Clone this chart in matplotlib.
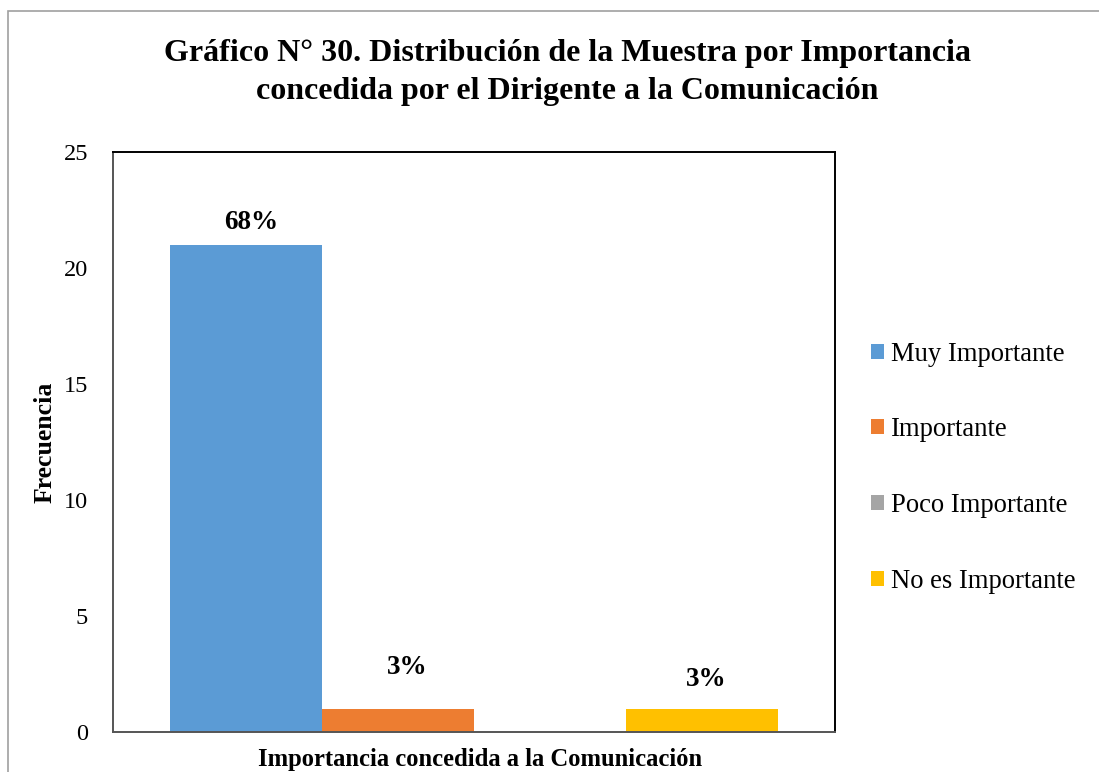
import matplotlib.pyplot as plt
from matplotlib.patches import Rectangle

# datos
categorias = ['Muy Importante', 'Importante', 'Poco Importante', 'No es Importante']
frecuencias = [21, 1, 0, 1]
etiquetas = ['68%', '3%', '', '3%']
colores = ['#5B9BD5', '#ED7D31', '#A5A5A5', '#FFC000']

plt.rcParams['font.family'] = ['Liberation Serif', 'DejaVu Serif']

fig = plt.figure(figsize=(10.99, 7.72), dpi=100)
ax = fig.add_axes([0.1028, 0.0518, 0.657, 0.7513])

# borde del área del gráfico
fig.patches.append(Rectangle((8 / 1099, -0.05), 1.2, 1 - 11 / 772 + 0.05,
                             transform=fig.transFigure, fill=False,
                             edgecolor='#A0A0A0', linewidth=1.2))

ancho = 0.842 / len(categorias)
inicio = -0.421 + ancho / 2
# desplazamiento de las etiquetas (puntos)
offsets = [(4, 16), (7, 30), (0, 0), (3, 21)]
for i, (cat, val, lab, col) in enumerate(zip(categorias, frecuencias, etiquetas, colores)):
    x = inicio + i * ancho
    ax.bar(x, val, width=ancho, color=col, label=cat)
    if lab:
        ax.annotate(lab, (x, val), xytext=offsets[i], textcoords='offset points',
                    ha='center', va='center', fontsize=19.5, fontweight='bold')

ax.set_xlim(-0.5, 0.5)
ax.set_ylim(0, 25)
ax.set_yticks([0, 5, 10, 15, 20, 25])
ax.set_xticks([])
ax.tick_params(axis='y', length=0, pad=18, labelsize=17.5)
for s in ax.spines.values():
    s.set_color('black')
    s.set_linewidth(1.4)
ax.spines['left'].set_color('#555555')
ax.spines['bottom'].set_color('#555555')

ax.set_ylabel('Frecuencia', fontsize=18.5, fontweight='bold', labelpad=5)
ax.set_xlabel('Importancia concedida a la Comunicación', fontsize=17.7,
              fontweight='bold')
ax.xaxis.set_label_coords(0.508, -0.027)

fig.text(0.516, 0.906, 'Gráfico N° 30. Distribución de la Muestra por Importancia\n'
         'concedida por el Dirigente a la Comunicación',
         ha='center', va='center', fontsize=23, fontweight='bold', linespacing=1.4)

ax.legend(loc='center left', bbox_to_anchor=(1.0, 0.456), frameon=False,
          fontsize=19.2, handlelength=0.49, handleheight=0.49,
          handletextpad=0.25, labelspacing=1.9, borderaxespad=0.95)

plt.savefig('out.png', dpi=100)
